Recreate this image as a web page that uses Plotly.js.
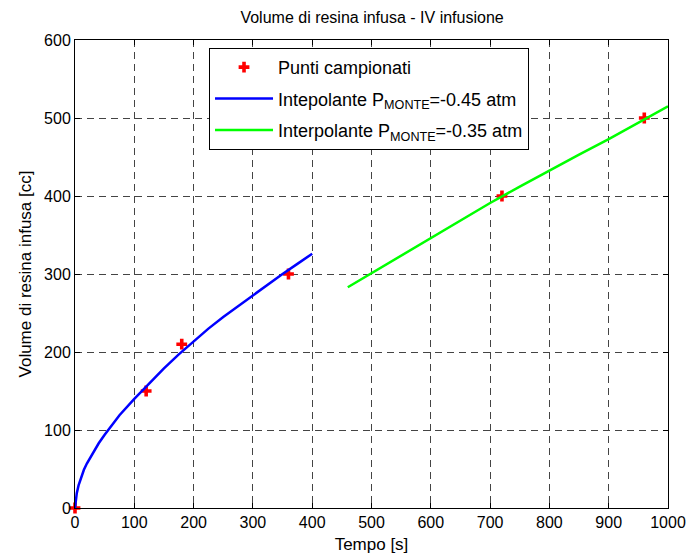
<!DOCTYPE html>
<html>
<head>
<meta charset="utf-8">
<script src="https://cdn.plot.ly/plotly-3.0.1.min.js"></script>
<style>html,body{margin:0;padding:0;background:#fff;}</style>
</head>
<body>
<div id="chart" style="width:689px;height:556px;"></div>
<script>
// Sampled points
const sampleT = [0, 120, 180, 360, 720, 960];
const sampleV = [0, 150, 210, 300, 400, 500];

// Interpolant P_MONTE = -0.45 atm
const blueT = [0, 1, 3, 6, 10, 15, 20, 30, 40, 50, 60, 75, 100, 125, 150, 175, 200, 225, 250, 275, 300, 325, 350, 375, 400];
const blueV = [0, 9, 19, 29, 39, 49, 57, 71, 83, 94, 104, 119, 140, 160, 179, 197, 214, 230, 245, 259, 273, 287, 300, 313, 326];

// Interpolant P_MONTE = -0.35 atm
const greenT = [460, 500, 550, 600, 650, 700, 750, 800, 850, 900, 950, 1000];
const greenV = [283, 301, 324, 346, 369, 391, 412, 433, 453, 473, 494, 515];

const xTicks = [0, 100, 200, 300, 400, 500, 600, 700, 800, 900, 1000];
const yTicks = [0, 100, 200, 300, 400, 500, 600];

const font = "Liberation Sans, Arial, sans-serif";

const traces = [
  {x: sampleT, y: sampleV, mode: 'markers', type: 'scatter', name: 'Punti campionati', legendgroup: 'a',
   marker: {symbol: 'cross', size: 9, color: '#ff0000', line: {width: 0}}, cliponaxis: false},
  {x: blueT, y: blueV, mode: 'lines', type: 'scatter', name: 'Intepolante P<sub>MONTE</sub>=-0.45 atm', legendgroup: 'b',
   line: {color: '#0000ff', width: 2.5}},
  {x: greenT, y: greenV, mode: 'lines', type: 'scatter', name: 'Interpolante P<sub>MONTE</sub>=-0.35 atm', legendgroup: 'c',
   line: {color: '#00ff00', width: 2.5}}
];

const axisCommon = {
  showline: true, linecolor: '#000', linewidth: 1, mirror: 'ticks',
  ticks: 'inside', ticklen: 5, tickcolor: '#000', tickwidth: 1,
  showgrid: true, gridcolor: '#444', gridwidth: 1, griddash: '7px,5px',
  zeroline: false, tickfont: {family: font, size: 16, color: '#000'}
};

const layout = {
  width: 689, height: 556,
  margin: {l: 75, r: 21, t: 40, b: 48},
  paper_bgcolor: '#fff', plot_bgcolor: '#fff',
  font: {family: font, color: '#000'},
  title: {text: 'Volume di resina infusa - IV infusione', font: {family: font, size: 16, color: '#000'},
          x: 0.54, xanchor: 'center', y: 0.968, yanchor: 'middle'},
  xaxis: Object.assign({}, axisCommon, {range: [0, 1000], tickvals: xTicks, ticktext: xTicks.map(String),
    title: {text: 'Tempo [s]', font: {family: font, size: 17, color: '#000'}, standoff: 7}}),
  yaxis: Object.assign({}, axisCommon, {range: [0, 600], tickvals: yTicks, ticktext: yTicks.map(String),
    title: {text: 'Volume di resina infusa [cc]', font: {family: font, size: 17, color: '#000'}, standoff: 8}}),
  showlegend: true,
  legend: {x: 0.226, y: 0.983, xanchor: 'left', yanchor: 'top', itemwidth: 58,
    bgcolor: '#fff', bordercolor: '#000', borderwidth: 1, traceorder: 'grouped',
    font: {family: font, size: 18, color: '#000'}, tracegroupgap: 5}
};

Plotly.newPlot('chart', traces, layout, {displayModeBar: false, staticPlot: true});
</script>
</body>
</html>
